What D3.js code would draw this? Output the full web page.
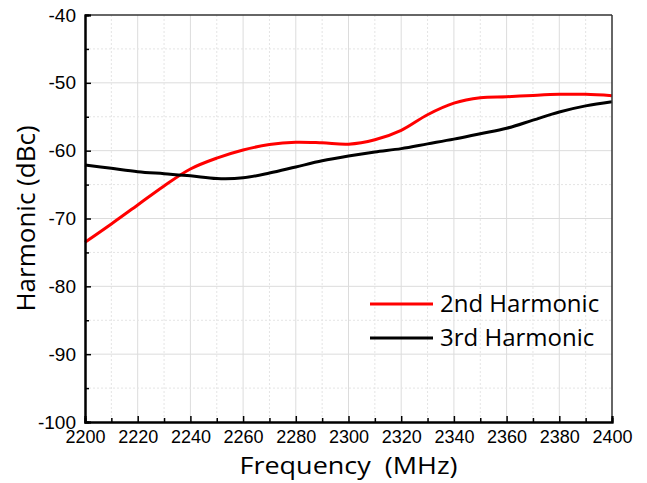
<!DOCTYPE html>
<html>
<head>
<meta charset="utf-8">
<script src="https://cdn.jsdelivr.net/npm/d3@7"></script>
<style>
  body { margin: 0; background: #fff; }
  svg { display: block; }
</style>
</head>
<body>
<div id="chart"></div>
<script>
// frequency points (MHz)
const freqs = [2200, 2210, 2220, 2230, 2240, 2250, 2260, 2270, 2280, 2290, 2300,
               2310, 2320, 2330, 2340, 2350, 2360, 2370, 2380, 2390, 2400];
// 2nd harmonic (dBc)
const harm2 = [-73.5, -70.8, -68.0, -65.2, -62.7, -61.1, -59.9, -59.1, -58.75, -58.85, -59.05,
               -58.4, -57.0, -54.7, -53.0, -52.2, -52.05, -51.85, -51.7, -51.7, -51.9];
// 3rd harmonic (dBc)
const harm3 = [-62.1, -62.6, -63.1, -63.4, -63.7, -64.1, -64.0, -63.3, -62.4, -61.5, -60.8,
               -60.2, -59.7, -59.0, -58.3, -57.5, -56.7, -55.5, -54.3, -53.4, -52.8];
const xTicks = [2200, 2220, 2240, 2260, 2280, 2300, 2320, 2340, 2360, 2380, 2400];
const yTicks = [-100, -90, -80, -70, -60, -50, -40];
const seriesNames = ["2nd Harmonic", "3rd Harmonic"];
const seriesColors = ["#ff0000", "#000000"];

const W = 647, H = 483;
const margin = {top: 15, right: 35, bottom: 61, left: 85};
const width = W - margin.left - margin.right,
      height = H - margin.top - margin.bottom;

const svg = d3.select("#chart").append("svg")
    .attr("width", W).attr("height", H);
const g = svg.append("g")
    .attr("transform", `translate(${margin.left},${margin.top})`);

const x = d3.scaleLinear().domain([2200, 2400]).range([0, width]);
const y = d3.scaleLinear().domain([-100, -40]).range([height, 0]);

const xMinor = d3.range(2210, 2400, 20);
const yMinor = d3.range(-95, -40, 10);

// grid
const grid = g.append("g");
grid.selectAll(".xmaj").data(xTicks.slice(1, -1)).enter().append("line")
    .attr("x1", d => x(d)).attr("x2", d => x(d))
    .attr("y1", 0).attr("y2", height)
    .attr("stroke", "#dcdcdc").attr("stroke-width", 1);
grid.selectAll(".ymaj").data(yTicks.slice(1, -1)).enter().append("line")
    .attr("y1", d => y(d)).attr("y2", d => y(d))
    .attr("x1", 0).attr("x2", width)
    .attr("stroke", "#dcdcdc").attr("stroke-width", 1);
grid.selectAll(".xmin").data(xMinor).enter().append("line")
    .attr("x1", d => x(d)).attr("x2", d => x(d))
    .attr("y1", 0).attr("y2", height)
    .attr("stroke", "#e4e4e4").attr("stroke-width", 1)
    .attr("stroke-dasharray", "2,2");
grid.selectAll(".ymin").data(yMinor).enter().append("line")
    .attr("y1", d => y(d)).attr("y2", d => y(d))
    .attr("x1", 0).attr("x2", width)
    .attr("stroke", "#e4e4e4").attr("stroke-width", 1)
    .attr("stroke-dasharray", "2,2");

// curves
const pts = [harm2, harm3].map(vals => freqs.map((f, i) => [f, vals[i]]));
const line = d3.line()
    .x(d => x(d[0])).y(d => y(d[1]))
    .curve(d3.curveCatmullRom.alpha(0.5));
g.selectAll(".curve").data(pts).enter().append("path")
    .attr("d", line)
    .attr("fill", "none")
    .attr("stroke", (d, i) => seriesColors[i])
    .attr("stroke-width", 3);

// frame (top/right)
g.append("line").attr("x1", 0).attr("x2", width).attr("y1", 0).attr("y2", 0)
    .attr("stroke", "#333").attr("stroke-width", 1.5);
g.append("line").attr("x1", width).attr("x2", width).attr("y1", 0).attr("y2", height)
    .attr("stroke", "#333").attr("stroke-width", 1.5);

// axes
const tickFont = "Liberation Sans, Arial, sans-serif";
const xAxis = g.append("g").attr("transform", `translate(0,${height})`)
    .call(d3.axisBottom(x).tickValues(xTicks).tickSize(-6).tickPadding(11).tickFormat(d => d));
const xAxisMinor = g.append("g").attr("transform", `translate(0,${height})`)
    .call(d3.axisBottom(x).tickValues(xMinor).tickSize(-4).tickFormat(""));
const yAxis = g.append("g")
    .call(d3.axisLeft(y).tickValues(yTicks).tickSize(-6).tickPadding(9).tickFormat(d => d));
const yAxisMinor = g.append("g")
    .call(d3.axisLeft(y).tickValues(yMinor).tickSize(-4).tickFormat(""));

[xAxis, xAxisMinor, yAxis, yAxisMinor].forEach(a => {
  a.select(".domain").attr("stroke", "#000").attr("stroke-width", 2);
  a.selectAll(".tick line").attr("stroke", "#000").attr("stroke-width", 1.5);
});
yAxis.selectAll("text").attr("fill", "#000")
    .style("font-family", tickFont).style("font-size", "19px");
xAxis.selectAll("text").attr("fill", "#000").attr("dy", "0.55em")
    .style("font-family", tickFont).style("font-size", "18px");

// axis titles
svg.append("text")
    .attr("x", margin.left + width / 2).attr("y", 474)
    .attr("text-anchor", "middle")
    .style("font-family", "'Open Sans', 'Noto Sans', sans-serif")
    .style("font-size", "24px")
    .attr("textLength", 218).attr("lengthAdjust", "spacingAndGlyphs")
    .text("Frequency\u00a0\u00a0(MHz)");
svg.append("text")
    .attr("transform", `translate(35,${margin.top + height / 2}) rotate(-90)`)
    .attr("text-anchor", "middle")
    .style("font-family", "'Open Sans', 'Noto Sans', sans-serif")
    .style("font-size", "26px")
    .text("Harmonic (dBc)");

// legend
const legend = svg.append("g").attr("transform", "translate(370,304)");
seriesNames.forEach((name, i) => {
  const row = legend.append("g").attr("transform", `translate(0,${i * 34})`);
  row.append("line").attr("x1", 0).attr("x2", 63).attr("y1", 0).attr("y2", 0)
      .attr("stroke", seriesColors[i]).attr("stroke-width", 3);
  row.append("text").attr("x", 70).attr("y", 0).attr("dy", "0.35em")
      .style("font-family", "'Open Sans', 'Noto Sans', sans-serif")
      .style("font-size", "24px")
      .text(name);
});
</script>
</body>
</html>
